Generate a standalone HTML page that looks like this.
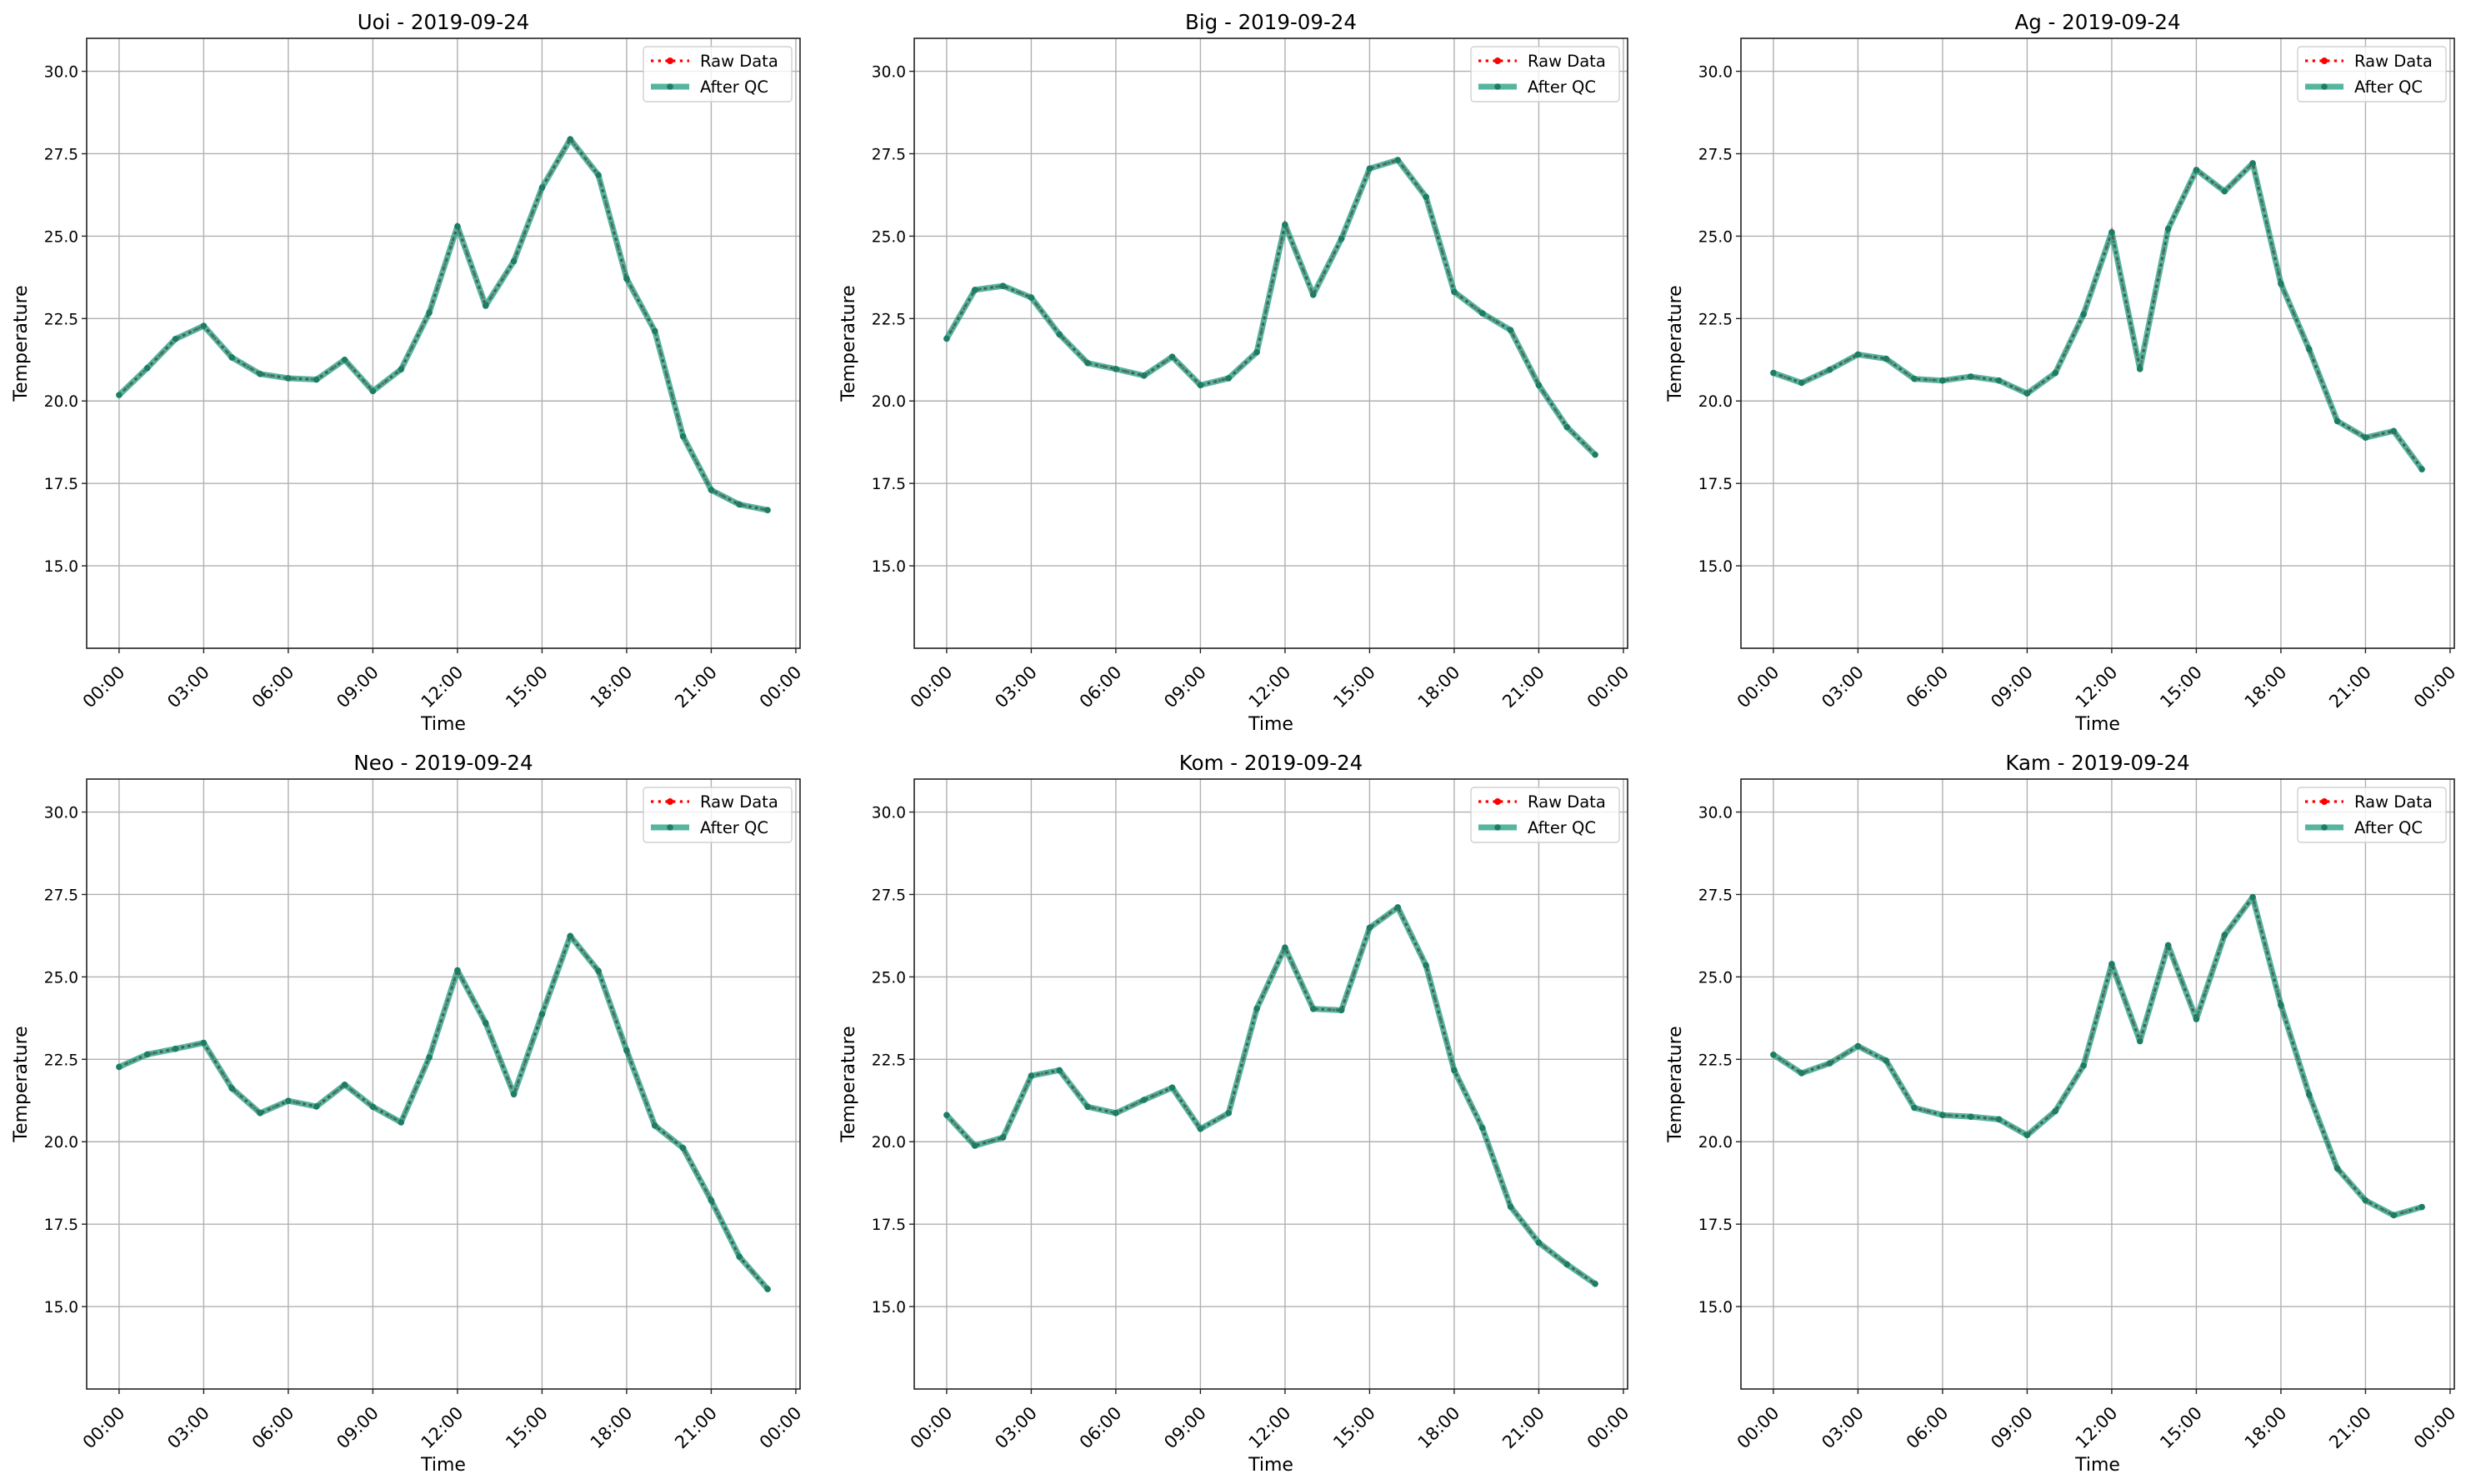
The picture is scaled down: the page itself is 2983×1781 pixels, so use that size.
<!DOCTYPE html>
<html><head><meta charset="utf-8">
<style>
html,body{margin:0;padding:0;background:#fff;}
svg{display:block;font-family:"DejaVu Sans","Liberation Sans",sans-serif;}
</style></head>
<body>
<svg id="fig" width="2983" height="1781" viewBox="0 0 2983 1781" xmlns="http://www.w3.org/2000/svg"></svg>
<script>
const stations = ["Uoi","Big","Ag","Neo","Kom","Kam"];
const dateLabel = "2019-09-24";
const hours = [0,1,2,3,4,5,6,7,8,9,10,11,12,13,14,15,16,17,18,19,20,21,22,23];
const xTickHours = [0,3,6,9,12,15,18,21,24];
const xTickLabels = ["00:00","03:00","06:00","09:00","12:00","15:00","18:00","21:00","00:00"];
const yTicks = [15.0,17.5,20.0,22.5,25.0,27.5,30.0];
const yTickLabels = ["15.0","17.5","20.0","22.5","25.0","27.5","30.0"];
const uoi = [20.18,21.0,21.88,22.28,21.32,20.82,20.69,20.65,21.25,20.30,20.96,22.68,25.30,22.89,24.24,26.47,27.94,26.85,23.71,22.12,18.93,17.30,16.86,16.69];
const big = [21.89,23.37,23.49,23.14,22.02,21.15,20.97,20.77,21.34,20.48,20.69,21.48,25.35,23.22,24.92,27.05,27.31,26.19,23.31,22.66,22.15,20.48,19.21,18.37];
const ag  = [20.85,20.55,20.95,21.41,21.28,20.67,20.62,20.74,20.62,20.23,20.85,22.63,25.12,20.97,25.22,27.01,26.36,27.21,23.56,21.57,19.39,18.89,19.09,17.93];
const neo = [22.27,22.65,22.82,23.00,21.62,20.87,21.24,21.07,21.73,21.06,20.59,22.56,25.20,23.60,21.44,23.87,26.24,25.18,22.77,20.49,19.81,18.22,16.51,15.53];
const kom = [20.81,19.88,20.13,22.00,22.17,21.06,20.87,21.27,21.64,20.39,20.87,24.04,25.89,24.03,23.99,26.49,27.11,25.35,22.17,20.42,18.03,16.94,16.28,15.69];
const kam = [22.64,22.08,22.38,22.90,22.46,21.03,20.81,20.76,20.68,20.20,20.93,22.31,25.39,23.05,25.96,23.72,26.27,27.42,24.15,21.43,19.19,18.22,17.77,18.02];
const rawSeries = [uoi,big,ag,neo,kom,kam];
const qcSeries = [uoi,big,ag,neo,kom,kam];

const NS="http://www.w3.org/2000/svg";
const svg=document.getElementById('fig');
function mk(tag,attrs,parent){const e=document.createElementNS(NS,tag);for(const k in attrs)e.setAttribute(k,attrs[k]);(parent||svg).appendChild(e);return e;}
const colLeft=[104,1097,2089], rowTop=[46,935], W=856, H=732;
const xMin=-1.15,xMax=24.15,yMin=12.5,yMax=31.0;

stations.forEach((name,i)=>{
  const L=colLeft[i%3], T=rowTop[Math.floor(i/3)];
  const sx=h=>L+(h-xMin)/(xMax-xMin)*W;
  const sy=v=>T+(yMax-v)/(yMax-yMin)*H;
  const g=mk('g',{});
  
  
  xTickHours.forEach((h,k)=>{
    const x=sx(h);
    const gl=mk('line',{x1:x,x2:x,y1:T,y2:T+H,stroke:'#b0b0b0','stroke-width':1.4},g);
    
    
    const tk=mk('line',{x1:x,x2:x,y1:T+H,y2:T+H+6,stroke:'#222','stroke-width':1.4},g);
    
    
    const ax=x+8, ay=T+H+30;
    const tx=mk('text',{x:ax,y:ay,'font-size':21,'text-anchor':'end',transform:`rotate(-45 ${ax} ${ay})`,fill:'#000'},g);
    tx.textContent=xTickLabels[k];
    
    
  });
  yTicks.forEach((v,k)=>{
    const y=sy(v);
    const gl=mk('line',{x1:L,x2:L+W,y1:y,y2:y,stroke:'#b0b0b0','stroke-width':1.4},g);
    
    
    const tk=mk('line',{x1:L-6,x2:L,y1:y,y2:y,stroke:'#222','stroke-width':1.4},g);
    
    
    const tx=mk('text',{x:L-10,y:y+7,'font-size':18.5,'text-anchor':'end',fill:'#000'},g);
    tx.textContent=yTickLabels[k];
    
    
  });
  const rawPts=hours.map((h,k)=>sx(h)+','+sy(rawSeries[i][k])).join(' ');
  const rl=mk('polyline',{points:rawPts,fill:'none',stroke:'#ff0000','stroke-width':3.3,'stroke-dasharray':'3.3,5.4'},g);
  
  
  const qcPts=hours.map((h,k)=>sx(h)+','+sy(qcSeries[i][k])).join(' ');
  const ql=mk('polyline',{points:qcPts,fill:'none',stroke:'#13987a','stroke-opacity':0.72,'stroke-width':7,'stroke-linejoin':'round'},g);
  
  
  const dl=mk('polyline',{points:qcPts,fill:'none',stroke:'#3a4f48','stroke-opacity':0.6,'stroke-width':2.6,'stroke-dasharray':'3.3,3.3'},g);
  
  
  hours.forEach((h,k)=>{
    const c=mk('circle',{cx:sx(h),cy:sy(qcSeries[i][k]),r:3.8,fill:'#1d7d64'},g);
    
    
  });
  const fr=mk('rect',{x:L,y:T,width:W,height:H,fill:'none',stroke:'#222','stroke-width':1.6},g);
  
  
  const tt=mk('text',{x:L+W/2,y:T-11,'font-size':24.5,'text-anchor':'middle',fill:'#000'},g);
  tt.textContent=name+' - '+dateLabel;
  
  
  const xl=mk('text',{x:L+W/2,y:T+H+98,'font-size':22,'text-anchor':'middle',fill:'#000'},g);
  xl.textContent='Time';
  
  
  const yx=L-72, yy=T+H/2;
  const yl=mk('text',{x:yx,y:yy,'font-size':22,'text-anchor':'middle',transform:`rotate(-90 ${yx} ${yy})`,fill:'#000'},g);
  yl.textContent='Temperature';
  
  
  const lg=mk('g',{},g);
  
  
  mk('rect',{x:L+668,y:T+10,width:178,height:66,rx:4,fill:'#fff','fill-opacity':0.8,stroke:'#d0d0d0','stroke-width':1.4},lg);
  const r1=T+27, r2=T+58;
  mk('line',{x1:L+677,x2:L+723,y1:r1,y2:r1,stroke:'#ff0000','stroke-width':3.3,'stroke-dasharray':'3.3,5.4'},lg);
  mk('circle',{cx:L+700,cy:r1,r:4,fill:'#ff0000'},lg);
  const t1=mk('text',{x:L+736,y:r1+7,'font-size':19.5,fill:'#000'},lg);
  t1.textContent='Raw Data';
  
  
  mk('line',{x1:L+677,x2:L+723,y1:r2,y2:r2,stroke:'#13987a','stroke-opacity':0.72,'stroke-width':7},lg);
  mk('circle',{cx:L+700,cy:r2,r:3.8,fill:'#1d7d64'},lg);
  const t2=mk('text',{x:L+736,y:r2+7,'font-size':19.5,fill:'#000'},lg);
  t2.textContent='After QC';
  
  
});
</script>
</body></html>
